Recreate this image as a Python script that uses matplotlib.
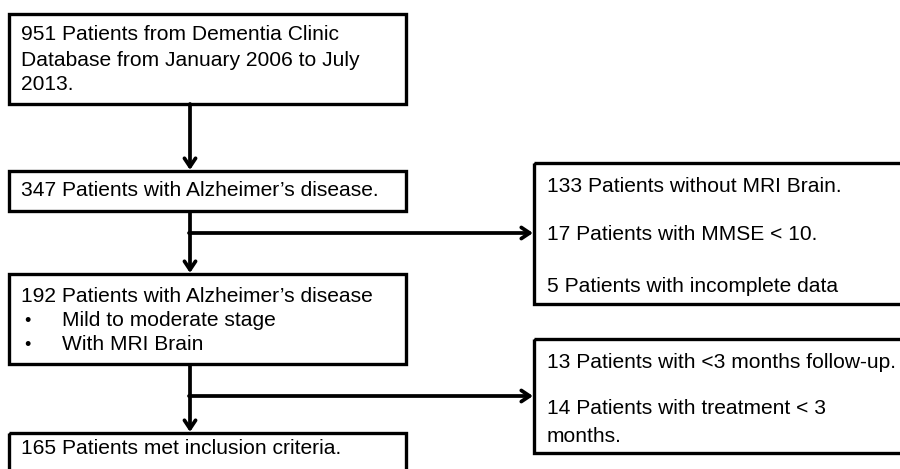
import matplotlib.pyplot as plt
from matplotlib.patches import Rectangle

plt.rcParams['font.family'] = ['Liberation Sans', 'DejaVu Sans']

# box texts (main column)
main_texts = [
    ['951 Patients from Dementia Clinic', 'Database from January 2006 to July', '2013.'],
    ['347 Patients with Alzheimer\u2019s disease.'],
    ['192 Patients with Alzheimer\u2019s disease', 'Mild to moderate stage', 'With MRI Brain'],
    ['165 Patients met inclusion criteria.'],
]
# exclusion boxes
excl_texts = [
    ['133 Patients without MRI Brain.', '17 Patients with MMSE < 10.', '5 Patients with incomplete data'],
    ['13 Patients with <3 months follow-up.', '14 Patients with treatment < 3', 'months.'],
]

W, H = 900, 469
fig = plt.figure(figsize=(W / 100, H / 100), dpi=100)
ax = fig.add_axes([0, 0, 1, 1])
ax.set_xlim(0, W)
ax.set_ylim(H, 0)
ax.axis('off')

lw = 2.4
fs = 15.1

def box(x0, y0, x1, y1):
    ax.add_patch(Rectangle((x0, y0), x1 - x0, y1 - y0, fill=False, lw=lw,
                           edgecolor='black', clip_on=True, zorder=2))

def arrow(x0, y0, x1, y1):
    ax.annotate('', xy=(x1, y1), xytext=(x0, y0),
                arrowprops=dict(arrowstyle='->,head_length=0.6,head_width=0.4',
                                lw=lw + 0.3, color='black', shrinkA=0, shrinkB=0))

# main boxes
main_boxes = [(9, 14, 406, 104), (9, 171, 406, 211), (9, 274, 406, 364), (9, 433, 406, 480)]
for b in main_boxes:
    box(*b)

# exclusion boxes (run past right edge)
box(534, 163, 910, 304)
box(534, 339, 910, 453)

# text main
for i, y in enumerate([35, 60, 85]):
    ax.text(21, y, main_texts[0][i], fontsize=fs, va='center', ha='left')
ax.text(21, 191, main_texts[1][0], fontsize=fs, va='center', ha='left')
ax.text(21, 297, main_texts[2][0], fontsize=fs, va='center', ha='left')
for i, y in enumerate([321, 345]):
    ax.text(24, y, '\u2022', fontsize=fs - 2, va='center', ha='left')
    ax.text(62, y, main_texts[2][i + 1], fontsize=fs, va='center', ha='left')
ax.text(21, 449, main_texts[3][0], fontsize=fs, va='center', ha='left')

for t, y in zip(excl_texts[0], [186, 234, 286]):
    ax.text(547, y, t, fontsize=fs, va='center', ha='left')
for t, y in zip(excl_texts[1], [362, 409, 436]):
    ax.text(547, y, t, fontsize=fs, va='center', ha='left')

# connectors
xc = 190
arrow(xc, 104, xc, 170)
ax.plot([xc, xc], [211, 233], color='black', lw=lw + 0.3, solid_capstyle='butt')
arrow(xc, 233, xc, 273)
arrow(xc - 1, 233, 533, 233)
ax.plot([xc, xc], [364, 396], color='black', lw=lw + 0.3, solid_capstyle='butt')
arrow(xc, 396, xc, 432)
arrow(xc - 1, 396, 533, 396)

fig.savefig('out.png', dpi=100)
